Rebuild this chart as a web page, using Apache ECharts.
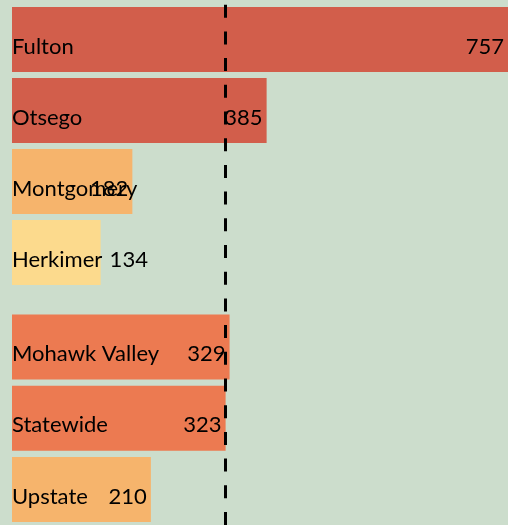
<!DOCTYPE html>
<html>
<head>
<meta charset="utf-8">
<script src="https://cdn.jsdelivr.net/npm/echarts@6/dist/echarts.min.js"></script>
<style>
  html, body { margin: 0; padding: 0; }
  #main { width: 508px; height: 525px; }
</style>
</head>
<body>
<div id="main"></div>
<script>
// counties (upper block)
var countyNames = ['Fulton', 'Otsego', 'Montgomery', 'Herkimer'];
var countyValues = [757, 385, 182, 134];
// regions (lower block)
var regionNames = ['Mohawk Valley', 'Statewide', 'Upstate'];
var regionValues = [329, 323, 210];
// dashed reference = statewide value
var referenceValue = 323;
var axisMax = 750;

var chart = echarts.init(document.getElementById('main'));
var FONT = 'Lato';
var FONT_SIZE = 22;

function barColor(v) {
    if (v >= 350) return '#d25e4b';
    if (v >= 250) return '#ec7a51';
    if (v >= 150) return '#f6b46c';
    return '#fcda8d';
}

function valueData(names, vals) {
    return vals.map(function (v, i) {
        if (names[i] === 'Herkimer') {
            return { value: v, label: { position: 'right', distance: 9 } };
        }
        return v;
    });
}

function blockSeries(idx, names, vals) {
    return [
        {
            type: 'bar',
            xAxisIndex: idx,
            yAxisIndex: idx,
            barWidth: 65,
            barGap: '-100%',
            data: valueData(names, vals),
            itemStyle: {
                color: function (p) { return barColor(p.value); }
            },
            label: {
                show: true,
                position: 'insideRight',
                distance: 4,
                offset: [0, 7],
                color: '#000',
                fontFamily: FONT,
                fontSize: FONT_SIZE
            },
            silent: true
        },
        {
            type: 'bar',
            xAxisIndex: idx,
            yAxisIndex: idx,
            barWidth: 65,
            barGap: '-100%',
            data: vals,
            itemStyle: { color: 'transparent' },
            label: {
                show: true,
                position: 'insideLeft',
                distance: 0,
                offset: [0, 7],
                formatter: '{b}',
                color: '#000',
                fontFamily: FONT,
                fontSize: FONT_SIZE
            },
            silent: true
        }
    ];
}

function xAx(idx) {
    return { type: 'value', gridIndex: idx, min: 0, max: axisMax, show: false };
}

var option = {
    backgroundColor: '#ccddcc',
    animation: false,
    grid: [
        { left: 12, right: 0, top: 4, height: 284 },
        { left: 12, right: 0, top: 311.5, height: 216 },
        { left: 12, right: 0, top: 0, bottom: 0 }
    ],
    xAxis: [xAx(0), xAx(1), xAx(2)],
    yAxis: [
        { type: 'category', gridIndex: 0, data: countyNames, inverse: true, show: false },
        { type: 'category', gridIndex: 1, data: regionNames, inverse: true, show: false },
        { type: 'value', gridIndex: 2, min: 0, max: 1, show: false }
    ],
    series: blockSeries(0, countyNames, countyValues)
        .concat(blockSeries(1, regionNames, regionValues))
        .concat([{
            type: 'line',
            xAxisIndex: 2,
            yAxisIndex: 2,
            data: [],
            markLine: {
                silent: true,
                symbol: 'none',
                z: 10,
                label: { show: false },
                lineStyle: { color: '#000', width: 3, type: [13, 13.7] },
                data: [{ xAxis: referenceValue }]
            }
        }])
};

chart.setOption(option);
</script>
</body>
</html>
